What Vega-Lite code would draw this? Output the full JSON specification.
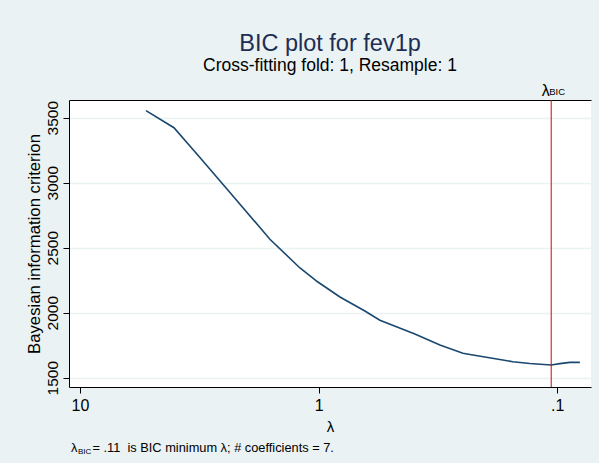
{
  "$schema": "https://vega.github.io/schema/vega-lite/v6.json",
  "width": 522,
  "height": 287,
  "autosize": "none",
  "padding": {"left": 69, "top": 100, "right": 8, "bottom": 76},
  "background": "#EAF2F3",
  "config": {
    "font": "Liberation Sans",
    "view": {"fill": "white", "stroke": null},
    "axis": {"domainColor": "black", "tickColor": "black", "labelColor": "black", "titleColor": "black", "titleFontWeight": "normal"}
  },
  "title": {
    "text": "BIC plot for fev1p",
    "subtitle": "Cross-fitting fold: 1, Resample: 1",
    "fontSize": 23.5,
    "fontWeight": "normal",
    "color": "#1e2d53",
    "subtitleFontSize": 17.5,
    "subtitleColor": "black",
    "anchor": "middle",
    "frame": "group",
    "offset": 8,
    "subtitlePadding": 1
  },
  "resolve": {"axis": {"x": "independent", "y": "independent"}},
  "layer": [
    {
      "data": {"values": [
        {"lambda": 5.290, "bic": 3554},
        {"lambda": 4.039, "bic": 3423},
        {"lambda": 3.144, "bic": 3194},
        {"lambda": 2.353, "bic": 2925},
        {"lambda": 1.600, "bic": 2565},
        {"lambda": 1.197, "bic": 2344},
        {"lambda": 1.007, "bic": 2236},
        {"lambda": 0.814, "bic": 2121},
        {"lambda": 0.640, "bic": 2013},
        {"lambda": 0.5537, "bic": 1942},
        {"lambda": 0.3951, "bic": 1836},
        {"lambda": 0.3102, "bic": 1752},
        {"lambda": 0.2485, "bic": 1688},
        {"lambda": 0.2257, "bic": 1675},
        {"lambda": 0.1740, "bic": 1640},
        {"lambda": 0.1535, "bic": 1623},
        {"lambda": 0.1302, "bic": 1609},
        {"lambda": 0.1060, "bic": 1598},
        {"lambda": 0.0975, "bic": 1608},
        {"lambda": 0.0886, "bic": 1618},
        {"lambda": 0.0804, "bic": 1618}
      ]},
      "mark": {"type": "line", "color": "#1a476f", "strokeWidth": 1.6},
      "encoding": {
        "x": {
          "field": "lambda", "type": "quantitative",
          "scale": {"type": "log", "domain": [0.0722, 11.12], "reverse": true, "nice": false, "zero": false},
          "axis": {
            "orient": "bottom", "values": [0.1, 1, 10],
            "labelExpr": "datum.value < 0.5 ? '.1' : datum.value < 5 ? '1' : '10'",
            "title": "λ", "titleFontSize": 15, "titlePadding": 6,
            "grid": false, "tickSize": 6, "labelFontSize": 16, "labelPadding": 4,
            "labelFlush": false, "labelOverlap": false
          }
        },
        "y": {
          "field": "bic", "type": "quantitative",
          "scale": {"domain": [1428.5, 3636], "nice": false, "zero": false},
          "axis": {
            "orient": "left",
            "values": [1500, 2000, 2500, 3000, 3500], "format": "d",
            "labelAngle": 270, "labelAlign": "center", "labelBaseline": "alphabetic",
            "labelFontSize": 15.5, "labelPadding": 6, "tickSize": 6,
            "title": "Bayesian information criterion", "titleFontSize": 16.7, "titlePadding": 2,
            "grid": true, "gridColor": "#EAF2F3", "gridWidth": 1.5,
            "labelFlush": false, "labelOverlap": false
          }
        }
      }
    },
    {
      "data": {"values": [{"lambda": 0.106}]},
      "mark": {"type": "rule", "color": "#dd0000", "strokeWidth": 1},
      "encoding": {
        "x": {
          "field": "lambda", "type": "quantitative",
          "axis": {
            "orient": "top", "values": [0.106], "labelExpr": "'λ'",
            "ticks": false, "tickSize": 0, "labelPadding": 5, "labelBaseline": "alphabetic",
            "labelAlign": "right", "labelOffset": -2, "labelFontSize": 16,
            "grid": false, "title": null, "labelFlush": false, "labelOverlap": false
          }
        }
      }
    },
    {
      "data": {"values": [{"label": "BIC"}]},
      "mark": {"type": "text", "align": "left", "baseline": "alphabetic", "dx": -2, "dy": -5, "fontSize": 9.5, "color": "black"},
      "encoding": {
        "x": {"datum": 0.106, "type": "quantitative", "axis": null},
        "y": {"datum": 3636, "type": "quantitative", "axis": null},
        "text": {"field": "label"}
      }
    },
    {
      "data": {"values": [{"label": "λ"}]},
      "mark": {"type": "text", "align": "left", "baseline": "alphabetic", "dx": 2, "dy": 65, "fontSize": 12.8, "color": "black"},
      "encoding": {
        "x": {"datum": 11.12, "type": "quantitative", "axis": null},
        "y": {"datum": 1428.5, "type": "quantitative", "axis": null},
        "text": {"field": "label"}
      }
    },
    {
      "data": {"values": [{"label": "BIC"}]},
      "mark": {"type": "text", "align": "left", "baseline": "alphabetic", "dx": 9, "dy": 67, "fontSize": 8, "color": "black"},
      "encoding": {
        "x": {"datum": 11.12, "type": "quantitative", "axis": null},
        "y": {"datum": 1428.5, "type": "quantitative", "axis": null},
        "text": {"field": "label"}
      }
    },
    {
      "data": {"values": [{"label": "= .11\u00a0 is BIC minimum λ; # coefficients = 7."}]},
      "mark": {"type": "text", "align": "left", "baseline": "alphabetic", "dx": 23.5, "dy": 65, "fontSize": 12.8, "color": "black"},
      "encoding": {
        "x": {"datum": 11.12, "type": "quantitative", "axis": null},
        "y": {"datum": 1428.5, "type": "quantitative", "axis": null},
        "text": {"field": "label"}
      }
    }
  ]
}
